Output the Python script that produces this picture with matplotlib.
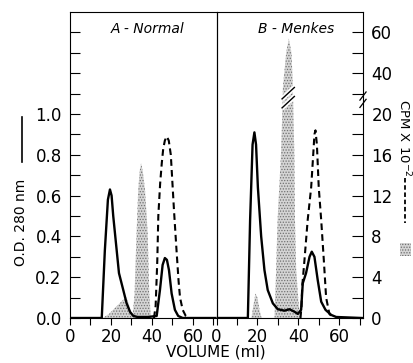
import numpy as np
import matplotlib
matplotlib.use("Agg")
import matplotlib.pyplot as plt
from matplotlib.ticker import FixedLocator, NullFormatter
from matplotlib.lines import Line2D
from matplotlib.patches import Rectangle

plt.rcParams['font.family'] = ['DejaVu Sans']
plt.rcParams['hatch.linewidth'] = 0.6

# ---------------- data ----------------
panel_titles = ["A - Normal", "B - Menkes"]

# O.D. 280 nm (solid line)
a_od_vol = [0, 15.5, 17.0, 18.5, 19.5, 20.3, 21.1, 22.8, 23.9, 26.0, 27.6, 29.3, 30.9, 33, 38, 42.3,
            43.9, 45.2, 46.3, 47.3, 48.3, 49.6, 51.2, 52.8, 55, 71]
a_od_val = [0, 0.0, 0.33, 0.58, 0.63, 0.60, 0.50, 0.33, 0.22, 0.137, 0.073, 0.03, 0.01, 0.005, 0.005, 0.01,
            0.137, 0.26, 0.294, 0.285, 0.235, 0.12, 0.04, 0.01, 0.0, 0.0]

b_od_vol = [0, 15.3, 16.4, 17.6, 18.5, 19.3, 20.2, 21.8, 23.4, 25.0, 27.5, 29.9, 33.2, 35.6, 38.0, 39.7,
            41.3, 42.1, 43.7, 45.4, 46.5, 47.8, 49.4, 51.1, 53.2, 56.0, 58.4, 71]
b_od_val = [0, 0.0, 0.48, 0.85, 0.91, 0.85, 0.64, 0.40, 0.235, 0.137, 0.072, 0.043, 0.036, 0.043, 0.031, 0.02,
            0.04, 0.17, 0.22, 0.30, 0.325, 0.30, 0.186, 0.08, 0.04, 0.015, 0.005, 0.0]

# CPM x 10^-2 (dashed line)
a_cpm_vol = [41.0, 41.8, 42.6, 43.1, 44.0, 44.8, 45.5, 46.3, 47.2, 48.2, 49.2, 50.0, 50.8, 52.0, 53.0,
             53.7, 55.0, 56.5, 58.0]
a_cpm_val = [0.0, 1.2, 5.6, 10.0, 13.2, 15.2, 16.6, 17.4, 17.8, 17.4, 16.0, 13.2, 10.4, 6.6, 3.6,
             2.0, 0.8, 0.2, 0.0]

b_cpm_vol = [41.0, 41.5, 41.8, 42.9, 43.7, 44.5, 46.2, 47.2, 47.8, 48.3, 49.0, 49.9, 51.1, 52.4, 53.5,
             55.1, 57.0]
b_cpm_val = [0.0, 1.2, 3.0, 5.6, 7.6, 9.6, 12.8, 16.0, 18.0, 18.4, 17.0, 12.8, 9.6, 5.6, 2.0,
             0.4, 0.0]

# stippled (shaded) radioactivity profile, CPM x 10^-2
a_sh_vol = [30.5, 31.5, 32.5, 33.3, 34.0, 34.7, 35.5, 36.6, 37.9, 38.7, 39.5]
a_sh_val = [0.0, 2.4, 8.4, 12.6, 14.4, 15.2, 14.4, 12.6, 8.4, 2.4, 0.0]
a_sh2_vol = [16, 19, 22, 24, 26, 27.5, 29, 30.5]
a_sh2_val = [0.0, 0.4, 1.0, 1.4, 1.8, 2.0, 1.2, 0.0]

b_sh_vol = [28.3, 29.1, 29.8, 31.5, 32.0, 32.4, 34.0, 35.3, 36.6, 37.3, 37.6, 38.0, 38.3, 38.9, 40.0, 41.0]
b_sh_val = [0.0, 4.7, 9.6, 16.2, 19.4, 33.0, 50.0, 57.0, 50.0, 33.0, 19.4, 16.2, 9.6, 4.7, 1.6, 0.0]
b_sh2_vol = [17, 18, 19, 20, 21, 22]
b_sh2_val = [0.0, 1.2, 2.4, 2.0, 0.8, 0.0]

x_major = [0, 20, 40, 60]
x_minor = [10, 30, 50, 70]
od_major = [0.0, 0.2, 0.4, 0.6, 0.8, 1.0]
od_minor = [0.1, 0.3, 0.5, 0.7, 0.9, 1.1, 1.2, 1.3, 1.4]
cpm_major = [0, 4, 8, 12, 16, 20, 40, 60]
cpm_minor = [2, 6, 10, 14, 18, 30, 50]


# broken CPM scale: 0-20 linear (20 -> OD 1.0), above 20 compressed (10 units per 0.1)
def fwd(c):
    c = np.asarray(c, dtype=float)
    return np.where(c <= 20, c / 20.0, 1.0 + (c - 20.0) * 0.01)


def inv(o):
    o = np.asarray(o, dtype=float)
    return np.where(o <= 1.0, o * 20.0, 20.0 + (o - 1.0) * 100.0)


# ---------------- figure ----------------
W, H = 413, 363
fig = plt.figure(figsize=(W / 100, H / 100), dpi=100)
L, R, B, T = 70 / W, 363 / W, 1 - 318 / H, 1 - 12 / H
mid = 216.5 / W
axA = fig.add_axes([L, B, mid - L, T - B])
axB = fig.add_axes([mid, B, R - mid, T - B])

shade_kw = dict(facecolor='#d4d4d4', edgecolor='#707070', hatch='......', linewidth=0)
XMAX = 71.5
YMAX = 1.5

for k, ax in enumerate([axA, axB]):
    tw = ax.twinx()
    tw.set_yscale('function', functions=(fwd, inv))
    tw.set_ylim(0, float(inv(YMAX)))
    ax.set_zorder(tw.get_zorder() + 1)
    ax.patch.set_visible(False)
    ax.set_xlim(0, XMAX)
    ax.set_ylim(0, YMAX)

    if k == 0:
        od_v, od_y, cp_v, cp_y = a_od_vol, a_od_val, a_cpm_vol, a_cpm_val
        shades = [(a_sh_vol, a_sh_val), (a_sh2_vol, a_sh2_val)]
    else:
        od_v, od_y, cp_v, cp_y = b_od_vol, b_od_val, b_cpm_vol, b_cpm_val
        shades = [(b_sh_vol, b_sh_val), (b_sh2_vol, b_sh2_val)]

    for sv, sy in shades:
        tw.fill_between(sv, 0, sy, **shade_kw)
    tw.plot(cp_v, cp_y, color='black', lw=1.5, linestyle=(0, (3.2, 2.0)))
    ax.plot(od_v, od_y, color='black', lw=1.7, solid_joinstyle='round')

    ax.text(0.53 if k == 0 else 0.545, 0.944, panel_titles[k], transform=ax.transAxes,
            ha='center', va='center', fontsize=10, style='italic')

    # x axis
    ax.xaxis.set_major_locator(FixedLocator(x_major))
    ax.xaxis.set_minor_locator(FixedLocator(x_minor))
    ax.tick_params(axis='x', which='both', direction='out', length=5, width=0.8,
                   labelsize=12, pad=2)
    ax.set_xticklabels([str(v) for v in x_major])

    for sp in ax.spines.values():
        sp.set_linewidth(0.8)
    for sp in tw.spines.values():
        sp.set_visible(False)

    if k == 0:
        ax.yaxis.set_major_locator(FixedLocator(od_major))
        ax.yaxis.set_minor_locator(FixedLocator(od_minor))
        ax.set_yticklabels(['%.1f' % v for v in od_major])
        ax.tick_params(axis='y', which='both', direction='in', length=7, width=0.8,
                       labelsize=12, pad=6)
        tw.set_yticks([])
        tw.tick_params(axis='y', which='both', right=False, labelright=False)
    else:
        ax.set_yticks([])
        ax.tick_params(axis='y', which='both', left=False, labelleft=False)
        tw.yaxis.set_major_locator(FixedLocator(cpm_major))
        tw.yaxis.set_minor_locator(FixedLocator(cpm_minor))
        tw.set_yticklabels([str(v) for v in cpm_major])
        tw.yaxis.set_minor_formatter(NullFormatter())
        tw.tick_params(axis='y', which='both', direction='in', length=8, width=0.8,
                       labelsize=12, pad=6)

# break mark on the Menkes stippled peak
bx, by = 35.0, 1.08
for d in (-0.022, 0.022):
    axB.plot([bx - 3.2, bx + 3.2], [by + d - 0.03, by + d + 0.03], color='white', lw=3.5,
             solid_capstyle='butt', zorder=5)
for d in (-0.022, 0.022):
    axB.plot([bx - 3.0, bx + 3.0], [by + d - 0.028, by + d + 0.028], color='black', lw=1.0, zorder=6)
# break mark on the right axis
for d in (-0.018, 0.018):
    axB.plot([XMAX - 1.5, XMAX + 1.5], [1.07 + d - 0.02, 1.07 + d + 0.02], color='black', lw=0.9,
             clip_on=False, zorder=6)

# axis titles
fig.text(216 / W, 1 - 352 / H, "VOLUME (ml)", ha='center', va='center', fontsize=11)
fig.text(21 / W, 1 - 222 / H, "O.D. 280 nm", ha='center', va='center', fontsize=10, rotation=90)
fig.add_artist(Line2D([22 / W, 22 / W], [1 - 162 / H, 1 - 117 / H], color='black', lw=1.2))
fig.text(404 / W, 1 - 138 / H, "CPM X 10$^{-2}$", ha='center', va='center', fontsize=9.5, rotation=-90)
fig.add_artist(Line2D([405 / W, 405 / W], [1 - 178 / H, 1 - 223 / H], color='black', lw=1.3,
                      linestyle=(0, (2.5, 1.5))))
fig.add_artist(Rectangle((400 / W, 1 - 256 / H), 11 / W, 13 / H, transform=fig.transFigure,
                         **shade_kw))

fig.savefig("out.png", dpi=100)
